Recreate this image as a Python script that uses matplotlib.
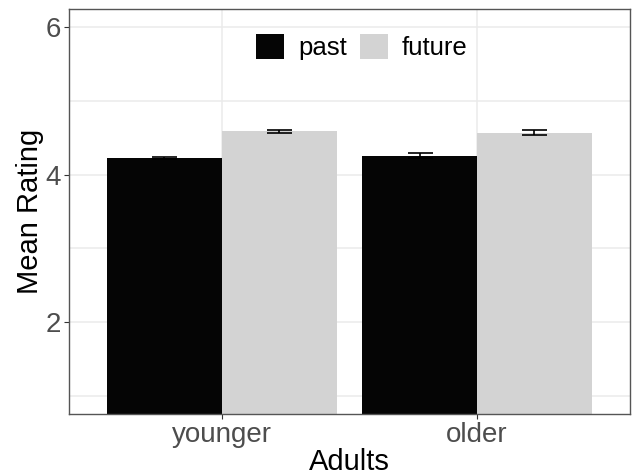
import numpy as np
import matplotlib
matplotlib.use("Agg")
import matplotlib.pyplot as plt

plt.rcParams["font.family"] = ["Liberation Sans", "DejaVu Sans"]

# mean ratings by age group and temporal direction
groups = ["younger", "older"]
conditions = ["past", "future"]
means = {
    "past": [4.23, 4.26],
    "future": [4.59, 4.57],
}
errors = {
    "past": [0.015, 0.03],
    "future": [0.02, 0.035],
}
colors = {"past": "#050505", "future": "#d3d3d3"}

fig = plt.figure(figsize=(6.37, 4.75), dpi=100)
ax = fig.add_axes([0.108, 0.128, 0.881, 0.853])

x = np.arange(1, len(groups) + 1)
width = 0.45
for i, cond in enumerate(conditions):
    pos = x + (i - 0.5) * width
    ax.bar(pos, means[cond], width=width, bottom=0, color=colors[cond],
           label=cond, zorder=2)
    ax.errorbar(pos, means[cond], yerr=errors[cond], fmt="none",
                ecolor="black", elinewidth=1.2, capsize=9, capthick=1.2,
                zorder=3)

ax.set_xlim(0.4, 2.6)
ax.set_ylim(0.75, 6.25)

# theme_bw-like grid
ax.set_yticks([2, 4, 6])
ax.set_yticks([1, 3, 5], minor=True)
ax.set_xticks(x)
ax.set_xticklabels(groups)
ax.grid(axis="y", which="major", color="#ebebeb", lw=1.1, zorder=0)
ax.grid(axis="y", which="minor", color="#ebebeb", lw=1.1, zorder=0)
ax.grid(axis="x", which="major", color="#ebebeb", lw=1.1, zorder=0)
ax.set_axisbelow(True)
ax.tick_params(axis="both", which="major", labelsize=20, labelcolor="#4d4d4d",
               color="#333333", length=3.5, width=0.8, pad=2)
ax.tick_params(axis="y", which="minor", length=0)
for spine in ax.spines.values():
    spine.set_color("#555555")
    spine.set_linewidth(1.0)

ax.set_xlabel("Adults", fontsize=21, labelpad=0)
ax.set_ylabel("Mean Rating", fontsize=21, labelpad=1)

ax.legend(loc="center", bbox_to_anchor=(0.522, 0.906), ncol=2, frameon=False,
          fontsize=18.5, handlelength=1.1, handleheight=1.1, handletextpad=0.55,
          columnspacing=0.5)

fig.savefig("out.png", dpi=100)
